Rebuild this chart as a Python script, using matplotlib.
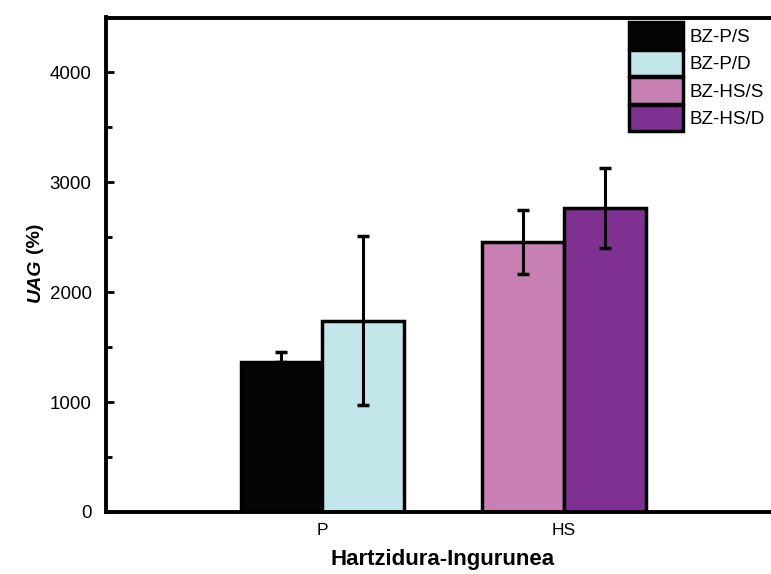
import matplotlib
matplotlib.use('Agg')
from matplotlib import pyplot as plt
from matplotlib.ticker import MultipleLocator

plt.rcParams['font.family'] = ['Liberation Sans', 'DejaVu Sans']

groups = ['P', 'HS']
labels = ['BZ-P/S', 'BZ-P/D', 'BZ-HS/S', 'BZ-HS/D']
values = [1365, 1740, 2455, 2766]
errors = [92, 768, 292, 360]
group_idx = [0, 0, 1, 1]
offsets = [-0.17, 0.17, -0.17, 0.17]
colors = ['#050505', '#c3e6ea', '#c87fb3', '#7f3191']
err_upper_only = [True, False, False, False]

fig = plt.figure(figsize=(7.71, 5.74), dpi=100)
ax = fig.add_axes([105.5 / 771, 62 / 574, 675 / 771, 494.5 / 574])

width = 0.34
for i in range(len(labels)):
    x = group_idx[i] + 1 + offsets[i]
    ax.bar(x, values[i], width, color=colors[i], edgecolor='black',
           linewidth=2.5, label=labels[i], zorder=2)
    if err_upper_only[i]:
        yerr = [[0], [errors[i]]]
    else:
        yerr = [[errors[i]], [errors[i]]]
    ax.errorbar(x, values[i], yerr=yerr, fmt='none', ecolor='black',
                elinewidth=2.2, capsize=4, capthick=2.5, zorder=3)

ax.set_xlim(0.1, 2.9)
ax.set_ylim(0, 4500)
ax.set_xticks([1, 2])
ax.set_xticklabels(groups, fontsize=12.5)
ax.tick_params(axis='x', length=0, pad=8)
ax.yaxis.set_major_locator(MultipleLocator(1000))
ax.yaxis.set_minor_locator(MultipleLocator(500))
ax.tick_params(axis='y', which='major', direction='in', length=6, width=2,
               labelsize=13.5, pad=10)
ax.tick_params(axis='y', which='minor', direction='in', length=4, width=2)

for s in ['left', 'bottom', 'top', 'right']:
    ax.spines[s].set_linewidth(2.8)

ax.set_xlabel('Hartzidura-Ingurunea', fontsize=16, fontweight='bold', labelpad=8)

t1 = fig.text(35 / 771, 1 - 302 / 574, 'UAG', rotation=90, fontsize=14,
              fontweight='bold', fontstyle='italic', ha='center', va='bottom')
ax.annotate('(%)', xy=(0.5, 1), xycoords=t1, xytext=(0, 4),
            textcoords='offset points', rotation=90, fontsize=14,
            fontweight='bold', ha='center', va='bottom', annotation_clip=False)

leg = ax.legend(loc='upper left', bbox_to_anchor=(0.7756, 0.99), frameon=False,
                fontsize=13.5, handlelength=2.88, handleheight=1.8,
                labelspacing=0.05, handletextpad=0.35, borderaxespad=0,
                borderpad=0)

fig.savefig('out.png', dpi=100)
